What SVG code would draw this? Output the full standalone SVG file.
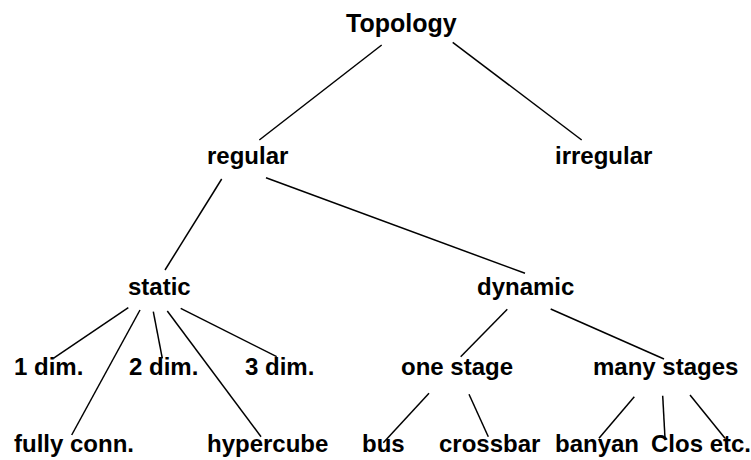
<svg xmlns="http://www.w3.org/2000/svg" width="751" height="460" viewBox="0 0 751 460">
  <style>
    .lbl { font-family: "Liberation Sans", Arial, sans-serif; font-weight: bold; font-size: 24px; fill: #000; }
    .root { font-size: 25px; }
    .edge { stroke: #000; stroke-width: 1.5; fill: none; }
  </style>
  <rect width="751" height="460" fill="#fff"/>

  <g id="connectors">
    <line class="edge" x1="381.7" y1="45" x2="259.3" y2="140"/>
    <line class="edge" x1="452.7" y1="42.3" x2="581.7" y2="140"/>
    <line class="edge" x1="221.7" y1="179" x2="165" y2="270"/>
    <line class="edge" x1="266" y1="177.7" x2="525" y2="273.3"/>
    <line class="edge" x1="128.3" y1="307.7" x2="53.3" y2="358.3"/>
    <line class="edge" x1="140" y1="310" x2="71.7" y2="435"/>
    <line class="edge" x1="153.3" y1="311.7" x2="162.3" y2="358.3"/>
    <line class="edge" x1="167.3" y1="311" x2="261" y2="436.7"/>
    <line class="edge" x1="180.7" y1="308.3" x2="276.7" y2="356.7"/>
    <line class="edge" x1="507.3" y1="309.3" x2="460.7" y2="356.7"/>
    <line class="edge" x1="550.7" y1="309" x2="664" y2="359"/>
    <line class="edge" x1="429" y1="393.3" x2="383.3" y2="442.7"/>
    <line class="edge" x1="469" y1="394.3" x2="488.3" y2="436.7"/>
    <line class="edge" x1="634.3" y1="396.7" x2="599" y2="438.3"/>
    <line class="edge" x1="662.7" y1="395.7" x2="665" y2="438.3"/>
    <line class="edge" x1="690" y1="395" x2="725" y2="438.3"/>
  </g>

  <g id="topology"><text class="lbl root" x="346" y="32">Topology</text></g>
  <g id="regular"><text class="lbl" x="207" y="164">regular</text></g>
  <g id="irregular"><text class="lbl" x="555" y="164">irregular</text></g>
  <g id="static"><text class="lbl" x="128" y="295">static</text></g>
  <g id="dynamic"><text class="lbl" x="477" y="295">dynamic</text></g>
  <g id="dim1"><text class="lbl" x="14" y="375">1 dim.</text></g>
  <g id="dim2"><text class="lbl" x="129" y="375">2 dim.</text></g>
  <g id="dim3"><text class="lbl" x="245" y="375">3 dim.</text></g>
  <g id="one-stage"><text class="lbl" x="401" y="375">one stage</text></g>
  <g id="many-stages"><text class="lbl" x="593" y="375">many stages</text></g>
  <g id="fully-conn"><text class="lbl" x="14" y="452">fully conn.</text></g>
  <g id="hypercube"><text class="lbl" x="207" y="452">hypercube</text></g>
  <g id="bus"><text class="lbl" x="362" y="452">bus</text></g>
  <g id="crossbar"><text class="lbl" x="439" y="452">crossbar</text></g>
  <g id="banyan"><text class="lbl" x="555" y="452">banyan</text></g>
  <g id="clos"><text class="lbl" x="651" y="452">Clos etc.</text></g>
</svg>
